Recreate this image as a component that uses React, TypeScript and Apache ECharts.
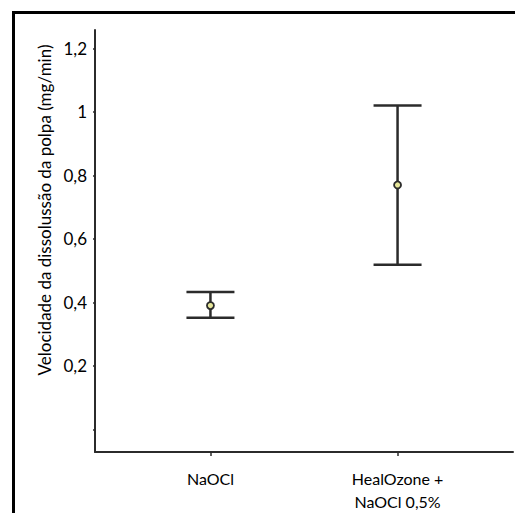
import React, { useEffect, useRef } from "react";
import * as echarts from "echarts";

const categories = ["NaOCl", "HealOzone +\nNaOCl 0,5%"];
const categoryPositions = [1, 2];
const means = [0.39, 0.77];
const lowers = [0.352, 0.519];
const uppers = [0.433, 1.02];
const yTicks = [0, 0.2, 0.4, 0.6, 0.8, 1.0, 1.2];
const yLabels = [0.2, 0.4, 0.6, 0.8, 1.0, 1.2];
const yTitle = "Velocidade da dissolussão da polpa (mg/min)";

const FONT = "Lato, 'Open Sans', sans-serif";
const DARK = "#2b2b2b";

export default function App() {
  const ref = useRef<HTMLDivElement>(null);
  useEffect(() => {
    if (!ref.current) return;
    const chart = echarts.init(ref.current, null, { renderer: "svg" });
    const data = categoryPositions.map((x, i) => [x, lowers[i], means[i], uppers[i]]);
    chart.setOption({
      animation: false,
      backgroundColor: "#ffffff",
      grid: { left: 95, right: 2, top: 30, bottom: 53, containLabel: false },
      xAxis: {
        type: "value",
        min: 0.383,
        max: 2.617,
        splitLine: { show: false },
        axisLine: { show: true, onZero: false, lineStyle: { color: DARK, width: 2 } },
        axisTick: {
          show: true,
          length: 4,
          customValues: categoryPositions,
          lineStyle: { color: DARK, width: 1.5 },
        },
        axisLabel: {
          show: true,
          customValues: categoryPositions,
          margin: 15,
          fontFamily: FONT,
          fontSize: 16,
          color: "#000",
          lineHeight: 23,
          formatter: (v: number) => {
            const idx = categoryPositions.indexOf(Math.round(v));
            return idx >= 0 ? categories[idx] : "";
          },
        },
      },
      yAxis: {
        type: "value",
        min: -0.071,
        max: 1.258,
        splitLine: { show: false },
        axisLine: { show: true, onZero: false, lineStyle: { color: DARK, width: 2 } },
        axisTick: {
          show: true,
          length: 2,
          customValues: yTicks,
          lineStyle: { color: DARK, width: 1.5 },
        },
        axisLabel: {
          show: true,
          customValues: yLabels,
          margin: 8,
          fontFamily: FONT,
          fontSize: 17,
          color: "#000",
          formatter: (v: number) => {
            const r = Math.round(v * 10) / 10;
            return Number.isInteger(r) ? String(r) : r.toFixed(1).replace(".", ",");
          },
        },
      },
      series: [
        {
          type: "custom",
          data,
          renderItem: (params: any, api: any) => {
            const x = api.value(0);
            const lo = api.coord([x, api.value(1)]);
            const mid = api.coord([x, api.value(2)]);
            const hi = api.coord([x, api.value(3)]);
            const half = 24;
            const ls = { stroke: DARK, lineWidth: 2.5 };
            return {
              type: "group",
              children: [
                { type: "line", shape: { x1: hi[0], y1: hi[1], x2: lo[0], y2: lo[1] }, style: ls },
                { type: "line", shape: { x1: hi[0] - half, y1: hi[1], x2: hi[0] + half, y2: hi[1] }, style: ls },
                { type: "line", shape: { x1: lo[0] - half, y1: lo[1], x2: lo[0] + half, y2: lo[1] }, style: ls },
                {
                  type: "circle",
                  shape: { cx: mid[0], cy: mid[1], r: 3.5 },
                  style: { fill: "#e6e69a", stroke: DARK, lineWidth: 1.8 },
                },
              ],
            };
          },
        },
      ],
      graphic: [
        {
          type: "line",
          shape: { x1: 13.5, y1: 12, x2: 13.5, y2: 513 },
          style: { stroke: "#000", lineWidth: 3 },
        },
        {
          type: "line",
          shape: { x1: 12, y1: 12.5, x2: 515, y2: 12.5 },
          style: { stroke: "#000", lineWidth: 3 },
        },
        {
          type: "text",
          x: 44,
          y: 210,
          rotation: Math.PI / 2,
          style: {
            text: yTitle,
            fontFamily: FONT,
            fontSize: 17,
            fill: "#000",
            align: "center",
            verticalAlign: "middle",
          },
        },
      ],
    });
    return () => chart.dispose();
  }, []);
  return (
    <div
      ref={ref}
      style={{ position: "absolute", left: 0, top: 0, width: 515, height: 513 }}
    />
  );
}
